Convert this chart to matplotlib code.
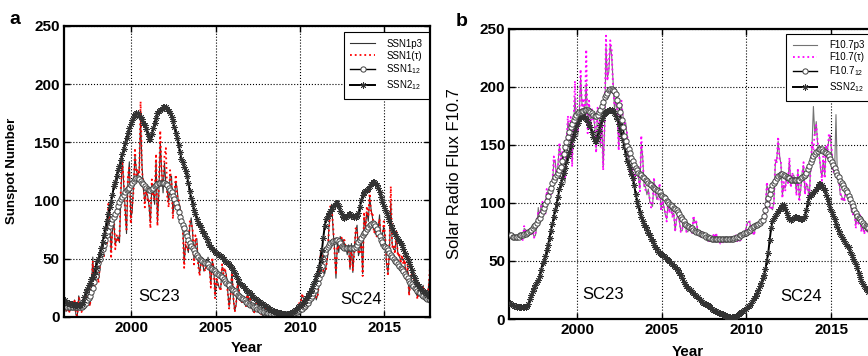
import numpy as np
import matplotlib
matplotlib.use('Agg')
import matplotlib.pyplot as plt

plt.rcParams['font.family'] = ['Liberation Sans', 'DejaVu Sans']
plt.rcParams['mathtext.fontset'] = 'custom'
plt.rcParams['mathtext.rm'] = 'Liberation Sans'

# monthly values, Jan 1996 .. Oct 2017
start_year = 1996

# 13-month smoothed SSN (version 2)
ssn2_12 = [
    14, 13, 12, 11.5, 11, 10.5, 10, 10, 10, 10, 10, 10,
    11, 13, 17, 21, 24, 27, 29, 32, 34, 37, 42, 48,
    50, 54, 59, 64, 70, 76, 82, 88, 94, 99, 105, 112,
    116, 121, 126, 130, 135, 140, 144, 149, 154, 158, 162, 166,
    169, 172, 174, 175, 175, 173, 172, 170, 167, 165, 161, 157,
    153, 153, 157, 162, 167, 171, 175, 177, 178, 179, 180, 180,
    180, 179, 177, 175, 172, 168, 163, 158, 154, 148, 142, 136,
    133, 129, 125, 121, 115, 108, 102, 97, 92, 88, 84, 81,
    79, 77, 74, 72, 69, 67, 64, 62, 60, 58, 57, 56,
    55, 54, 53, 52, 51, 50, 48, 47, 46, 45, 43, 42,
    40, 38, 35, 32, 30, 28, 27, 26, 25, 23, 22, 21,
    20, 19, 17, 16, 15, 14, 13, 13, 12, 11, 10, 9,
    8, 7, 7, 6, 5, 5, 4, 4, 3, 3, 3, 2,
    2, 2, 2, 2, 3, 3, 4, 5, 6, 7, 8, 9,
    10, 11, 12, 14, 16, 18, 20, 22, 25, 28, 31, 35,
    38, 43, 50, 57, 68, 78, 84, 87, 89, 91, 93, 95,
    96, 98, 98, 95, 91, 88, 86, 85, 86, 87, 88, 88,
    87, 87, 86, 86, 87, 89, 94, 100, 105, 107, 108, 109,
    110, 112, 114, 116, 116, 115, 113, 111, 107, 103, 99, 95,
    92, 89, 86, 82, 79, 76, 73, 71, 69, 67, 65, 63,
    62, 58, 55, 52, 50, 47, 44, 40, 36, 33, 30, 28,
    26, 25, 23, 22, 21, 20, 19, 18, 18, 17,
]

# 13-month smoothed SSN (version 1)
ssn1_12 = [
    9, 9, 8, 8, 8, 8, 8, 8, 8, 8, 8, 8,
    8, 9, 10, 12, 14, 16, 18, 21, 25, 30, 35, 41,
    46, 50, 54, 58, 62, 66, 70, 74, 78, 81, 84, 86,
    88, 91, 95, 99, 101, 103, 105, 107, 109, 110, 111, 113,
    115, 117, 118, 119, 119, 118, 117, 115, 114, 112, 111, 110,
    109, 109, 110, 111, 112, 113, 114, 115, 115, 115, 115, 115,
    114, 113, 111, 109, 107, 104, 101, 98, 94, 90, 86, 82,
    79, 76, 72, 69, 66, 63, 61, 59, 57, 55, 53, 51,
    50, 49, 48, 47, 46, 46, 45, 43, 42, 41, 40, 39,
    38, 37, 36, 35, 34, 32, 31, 29, 28, 27, 25, 24,
    23, 22, 20, 19, 18, 17, 16, 15, 14, 13, 12, 11,
    10, 10, 9, 8, 8, 7, 7, 6, 5, 5, 4, 4,
    3, 3, 3, 2, 2, 2, 2, 2, 2, 2, 2, 2,
    2, 2, 2, 2, 2, 2, 3, 3, 4, 4, 5, 6,
    7, 7, 8, 9, 11, 12, 14, 16, 18, 20, 23, 26,
    29, 33, 37, 44, 50, 55, 58, 60, 62, 63, 64, 65,
    65, 66, 66, 65, 63, 61, 60, 59, 59, 59, 59, 59,
    59, 59, 59, 60, 62, 64, 66, 68, 70, 72, 73, 75,
    77, 79, 80, 81, 80, 78, 75, 72, 69, 66, 64, 61,
    60, 59, 57, 55, 53, 51, 50, 48, 47, 45, 44, 42,
    41, 39, 37, 35, 33, 31, 29, 28, 26, 25, 24, 22,
    21, 20, 19, 18, 17, 16, 15, 15, 14, 14,
]

# SSN1p3 (monthly)
ssn1_p3 = [
    11.5, 4.4, 9.2, 4.8, 5.5, 11.8, 8.2, 14.4, 1.6, 0.9, 17.9, 13.3,
    5.7, 7.6, 8.7, 15.5, 18.5, 12.7, 10.4, 24.4, 51.3, 22.8, 39.0, 41.2,
    31.9, 40.3, 54.8, 53.4, 56.3, 70.7, 66.6, 92.2, 92.9, 55.5, 74.0, 81.9,
    62.0, 66.3, 68.8, 63.7, 106.4, 137.7, 113.5, 93.7, 71.5, 116.7, 133.2, 84.6,
    90.1, 112.9, 138.5, 125.5, 121.6, 124.9, 170.1, 130.5, 109.7, 99.4, 106.8, 104.4,
    95.6, 80.6, 113.5, 107.7, 96.6, 134.0, 81.8, 106.4, 150.7, 125.5, 106.5, 132.2,
    114.1, 107.4, 98.4, 120.7, 120.8, 88.3, 99.6, 116.4, 109.6, 97.5, 95.0, 81.6,
    79.5, 46.2, 61.5, 60.0, 55.2, 77.4, 85.0, 72.7, 48.8, 65.5, 67.3, 46.5,
    37.3, 45.8, 49.1, 39.3, 41.5, 43.2, 51.1, 40.9, 27.7, 48.0, 43.5, 17.9,
    31.3, 29.2, 24.5, 24.2, 42.7, 39.3, 40.1, 36.4, 21.9, 8.7, 18.0, 41.2,
    15.3, 4.9, 10.6, 30.2, 22.3, 13.9, 12.2, 12.9, 14.4, 10.5, 21.4, 13.6,
    16.8, 10.7, 4.5, 3.4, 11.7, 12.1, 9.7, 6.0, 2.4, 0.9, 1.7, 10.1,
    3.3, 2.1, 9.3, 2.9, 3.2, 3.4, 0.5, 0.5, 1.1, 2.9, 4.1, 0.8,
    1.5, 1.4, 0.7, 1.2, 2.9, 2.6, 3.5, 0.0, 4.2, 4.6, 4.2, 10.6,
    13.1, 18.6, 15.4, 7.9, 8.8, 13.5, 16.1, 19.6, 25.2, 23.5, 21.6, 14.5,
    19.0, 29.4, 56.2, 54.4, 41.6, 37.0, 43.8, 50.6, 78.0, 88.0, 96.7, 73.0,
    58.3, 33.1, 64.2, 55.2, 69.0, 64.5, 66.5, 63.0, 61.4, 53.3, 61.8, 40.8,
    62.9, 38.1, 57.9, 72.4, 78.7, 52.5, 57.0, 66.0, 37.0, 85.6, 77.6, 90.3,
    82.0, 102.8, 92.2, 84.9, 75.2, 71.0, 72.4, 74.6, 87.6, 60.6, 70.1, 78.0,
    67, 45, 38, 54, 98, 62, 58, 57, 70, 55, 52, 49,
    50, 48, 46, 33, 42, 20, 28, 40, 37, 28, 20, 17,
    22, 23, 16, 27, 17, 18, 16, 28, 37, 14,
]

# SSN1(tau) (monthly)
ssn1_tau = [
    10, 6, 8, 3, 7, 12, 6, 15, 2, 1, 16, 14,
    4, 9, 7, 17, 16, 14, 9, 27, 48, 25, 36, 44,
    29, 43, 51, 57, 52, 74, 63, 97, 88, 50, 78, 86,
    58, 70, 64, 68, 112, 132, 118, 88, 75, 122, 128, 80,
    95, 108, 145, 120, 127, 118, 185, 125, 115, 94, 112, 99,
    100, 76, 118, 103, 101, 140, 78, 111, 160, 120, 111, 138,
    145, 102, 94, 126, 115, 84, 104, 122, 104, 102, 90, 86,
    75, 42, 65, 57, 58, 82, 80, 76, 45, 70, 63, 44,
    35, 48, 46, 42, 39, 46, 48, 44, 25, 51, 41, 16,
    34, 27, 26, 22, 45, 37, 42, 34, 20, 7, 20, 38,
    17, 4, 12, 28, 24, 12, 13, 12, 16, 9, 23, 12,
    15, 12, 4, 4, 10, 13, 9, 7, 2, 1, 2, 9,
    4, 2, 8, 3, 3, 4, 1, 0, 1, 3, 5, 1,
    1, 2, 1, 1, 3, 2, 4, 0, 5, 4, 5, 12,
    12, 20, 14, 8, 10, 12, 17, 21, 23, 25, 20, 16,
    18, 31, 53, 58, 39, 40, 41, 54, 74, 95, 92, 78,
    55, 36, 61, 58, 66, 68, 63, 66, 58, 56, 59, 43,
    60, 40, 55, 76, 75, 55, 54, 70, 35, 90, 74, 95,
    86, 108, 88, 90, 72, 75, 69, 78, 84, 64, 67, 82,
    70, 48, 35, 58, 112, 60, 62, 54, 74, 52, 55, 46,
    53, 45, 49, 31, 45, 18, 30, 38, 40, 26, 22, 15,
    24, 21, 18, 25, 19, 16, 18, 26, 45, 12,
]

# 13-month smoothed F10.7
f107_12 = [
    72, 72, 71, 71, 71, 71, 71, 72, 72, 72, 73, 73,
    74, 75, 76, 77, 78, 80, 81, 83, 85, 87, 90, 93,
    96, 99, 102, 106, 110, 113, 117, 120, 122, 124, 126, 128,
    131, 136, 142, 148, 152, 157, 161, 165, 168, 171, 174, 176,
    177, 178, 178, 179, 179, 180, 180, 180, 179, 178, 177, 176,
    175, 175, 176, 178, 180, 183, 187, 191, 193, 195, 197, 198,
    198, 197, 196, 194, 189, 184, 178, 171, 165, 158, 153, 149,
    146, 143, 139, 136, 133, 130, 128, 126, 125, 124, 122, 121,
    120, 119, 117, 116, 115, 114, 113, 112, 111, 110, 109, 107,
    106, 105, 104, 102, 101, 99, 98, 97, 96, 95, 94, 92,
    90, 88, 86, 84, 82, 81, 80, 79, 78, 78, 77, 76,
    75, 75, 74, 73, 73, 72, 72, 71, 71, 70, 70, 69,
    69, 69, 69, 69, 69, 69, 69, 69, 69, 69, 69, 69,
    69, 69, 69, 70, 70, 71, 71, 72, 72, 73, 74, 74,
    75, 76, 77, 78, 79, 80, 81, 81, 82, 83, 84, 85,
    89, 94, 99, 104, 108, 112, 115, 117, 119, 121, 123, 124,
    125, 125, 124, 123, 122, 121, 121, 120, 120, 120, 120, 120,
    120, 120, 121, 122, 123, 124, 126, 129, 132, 135, 138, 140,
    142, 144, 145, 146, 146, 146, 145, 144, 143, 142, 140, 138,
    135, 133, 130, 127, 124, 122, 119, 117, 115, 113, 111, 109,
    106, 103, 100, 97, 94, 91, 89, 87, 86, 84, 83, 81,
    80, 79, 78, 77, 76, 76, 75, 75, 74, 74,
]

# F10.7p3 (monthly)
f107_p3 = [
    72, 72, 71, 69, 70, 69, 71, 73, 69, 69, 78, 77,
    74, 73, 73, 74, 75, 71, 72, 80, 96, 85, 99, 98,
    93, 93, 109, 107, 107, 109, 113, 136, 137, 119, 134, 149,
    140, 141, 126, 117, 149, 170, 164, 170, 135, 165, 191, 169,
    158, 174, 208, 185, 184, 180, 203, 163, 183, 168, 178, 174,
    167, 147, 178, 179, 148, 173, 131, 163, 234, 208, 213, 236,
    227, 205, 180, 189, 178, 148, 173, 183, 175, 167, 169, 157,
    144, 124, 131, 126, 117, 129, 127, 122, 112, 151, 140, 114,
    114, 107, 112, 101, 99, 97, 119, 110, 103, 106, 114, 95,
    102, 97, 90, 86, 99, 93, 96, 90, 91, 76, 86, 90,
    84, 76, 76, 89, 81, 76, 75, 79, 77, 74, 87, 84,
    83, 77, 72, 72, 74, 73, 71, 69, 67, 68, 69, 71,
    72, 71, 73, 70, 68, 66, 66, 67, 68, 68, 69, 69,
    70, 71, 69, 69, 71, 68, 68, 67, 71, 72, 74, 77,
    82, 84, 83, 76, 74, 73, 80, 79, 81, 82, 83, 84,
    84, 95, 115, 112, 96, 96, 94, 101, 134, 137, 153, 141,
    133, 107, 115, 113, 121, 120, 136, 116, 123, 124, 120, 109,
    127, 104, 111, 126, 132, 110, 115, 114, 102, 132, 148, 183,
    158, 170, 150, 144, 130, 122, 137, 124, 147, 146, 155, 158,
    141, 129, 126, 176, 120, 123, 107, 106, 102, 104, 109, 112,
    101, 104, 92, 93, 93, 81, 86, 85, 88, 77, 79, 75,
    77, 77, 74, 80, 74, 75, 77, 77, 91, 76,
]

# F10.7(tau) (monthly)
f107_tau = [
    73, 71, 72, 70, 69, 70, 72, 72, 70, 68, 80, 76,
    75, 72, 74, 73, 77, 70, 73, 82, 93, 88, 97, 101,
    95, 90, 112, 104, 110, 106, 117, 140, 133, 122, 130, 152,
    136, 145, 122, 121, 152, 175, 160, 174, 131, 170, 205, 165,
    162, 170, 215, 180, 190, 176, 232, 160, 188, 165, 182, 170,
    170, 143, 182, 175, 152, 170, 128, 168, 244, 205, 218, 240,
    232, 200, 184, 185, 182, 145, 177, 188, 172, 171, 165, 160,
    141, 127, 128, 129, 114, 132, 124, 125, 110, 158, 137, 117,
    111, 110, 109, 104, 96, 100, 122, 107, 105, 103, 117, 93,
    104, 95, 92, 84, 101, 91, 98, 88, 93, 75, 88, 88,
    86, 75, 77, 87, 83, 75, 76, 78, 78, 73, 89, 82,
    84, 76, 73, 71, 75, 72, 72, 68, 68, 67, 70, 70,
    73, 70, 74, 69, 69, 65, 67, 66, 69, 67, 70, 68,
    71, 70, 70, 68, 72, 67, 69, 66, 72, 71, 75, 76,
    83, 83, 84, 75, 75, 72, 81, 78, 82, 81, 84, 83,
    85, 93, 118, 110, 98, 94, 96, 99, 138, 135, 157, 138,
    136, 104, 118, 110, 124, 117, 139, 113, 126, 121, 123, 106,
    130, 101, 114, 123, 135, 107, 118, 111, 105, 129, 152, 145,
    162, 167, 153, 141, 133, 119, 140, 121, 150, 143, 160, 155,
    145, 126, 129, 126, 123, 120, 110, 103, 105, 101, 112, 109,
    104, 101, 95, 90, 96, 78, 89, 82, 91, 75, 81, 73,
    79, 75, 76, 78, 76, 73, 79, 75, 94, 74,
]

year_ticks = [2000, 2005, 2010, 2015]
value_ticks = [0, 50, 100, 150, 200, 250]


def months(series):
    return start_year + (np.arange(len(series)) + 0.5) / 12.0


asterisk = (8, 2, 0)


def style_axes(ax, ylabel, ylabel_kw, xlab_x, xlab_y, ylab_x):
    ax.set_xlim(1996, 2017.7)
    ax.set_ylim(0, 250)
    ax.set_xticks(year_ticks)
    ax.set_yticks(value_ticks)
    ax.grid(True, color='black', linestyle=':', linewidth=0.8)
    ax.tick_params(direction='in', top=True, right=True, length=4,
                   width=1, labelsize=11, pad=3)
    for lab in ax.get_xticklabels() + ax.get_yticklabels():
        lab.set_fontweight('bold')
    for sp in ax.spines.values():
        sp.set_linewidth(1.6)
    ax.set_xlabel('Year', fontsize=11, fontweight='bold')
    ax.xaxis.set_label_coords(xlab_x, xlab_y)
    ax.set_ylabel(ylabel, **ylabel_kw)
    ax.yaxis.set_label_coords(ylab_x, 0.5)


def add_legend(ax, loc, anchor):
    leg = ax.legend(loc=loc, bbox_to_anchor=anchor, fontsize=7, numpoints=1,
                    fancybox=False, edgecolor='black', framealpha=1,
                    borderaxespad=0, handlelength=2.5, labelspacing=0.2,
                    borderpad=0.7, handletextpad=1.2)
    leg.get_frame().set_linewidth(0.8)


fig = plt.figure(figsize=(8.68, 3.56), dpi=100)
ax_a = fig.add_axes([0.0737, 0.1104, 0.4217, 0.8166])
ax_b = fig.add_axes([0.5868, 0.1039, 0.4233, 0.8155])

# panel a
ax_a.plot(months(ssn1_p3), ssn1_p3, color='0.2', linewidth=0.8, label='SSN1p3')
ax_a.plot(months(ssn1_tau), ssn1_tau, color='red', linestyle=':', linewidth=1.3,
          label='SSN1(τ)')
ax_a.plot(months(ssn1_12), ssn1_12, color='black', linewidth=1, marker='o',
          markersize=3.8, markerfacecolor='white', markeredgecolor='0.25',
          markeredgewidth=0.7, label='SSN1$_{12}$')
ax_a.plot(months(ssn2_12), ssn2_12, color='black', linewidth=1.4, marker=asterisk,
          markersize=4.5, markeredgecolor='0.2', markeredgewidth=0.6,
          label='SSN2$_{12}$')
style_axes(ax_a, 'Sunspot Number', dict(fontsize=9.5, fontweight='bold'),
           0.5, -0.085, -0.126)
ax_a.text(2001.65, 17, 'SC23', fontsize=12, ha='center', va='center')
ax_a.text(2013.6, 14.5, 'SC24', fontsize=12, ha='center', va='center')
add_legend(ax_a, 'upper right', (0.998, 0.98))

# panel b
ax_b.plot(months(f107_p3), f107_p3, color='0.45', linewidth=0.8, label='F10.7p3')
ax_b.plot(months(f107_tau), f107_tau, color='magenta', linestyle=':', linewidth=1.3,
          label='F10.7(τ)')
ax_b.plot(months(f107_12), f107_12, color='black', linewidth=1, marker='o',
          markersize=3.8, markerfacecolor='white', markeredgecolor='0.25',
          markeredgewidth=0.7, label='F10.7$_{12}$', zorder=4)
ax_b.plot(months(ssn2_12), ssn2_12, color='black', linewidth=1.4, marker=asterisk,
          markersize=4.5, markeredgecolor='0.2', markeredgewidth=0.6,
          label='SSN2$_{12}$', zorder=3)
style_axes(ax_b, 'Solar Radio Flux F10.7', dict(fontsize=12),
           0.486, -0.09, -0.13)
ax_b.text(2001.53, 20.7, 'SC23', fontsize=12, ha='center', va='center')
ax_b.text(2013.26, 19.8, 'SC24', fontsize=12, ha='center', va='center')
add_legend(ax_b, 'upper left', (0.753, 0.983))

fig.text(15 / 868, 1 - 20 / 356, 'a', fontsize=14, fontweight='bold',
         ha='center', va='center')
fig.text(462 / 868, 1 - 21 / 356, 'b', fontsize=14, fontweight='bold',
         ha='center', va='center')

fig.savefig('out.png', dpi=100)
